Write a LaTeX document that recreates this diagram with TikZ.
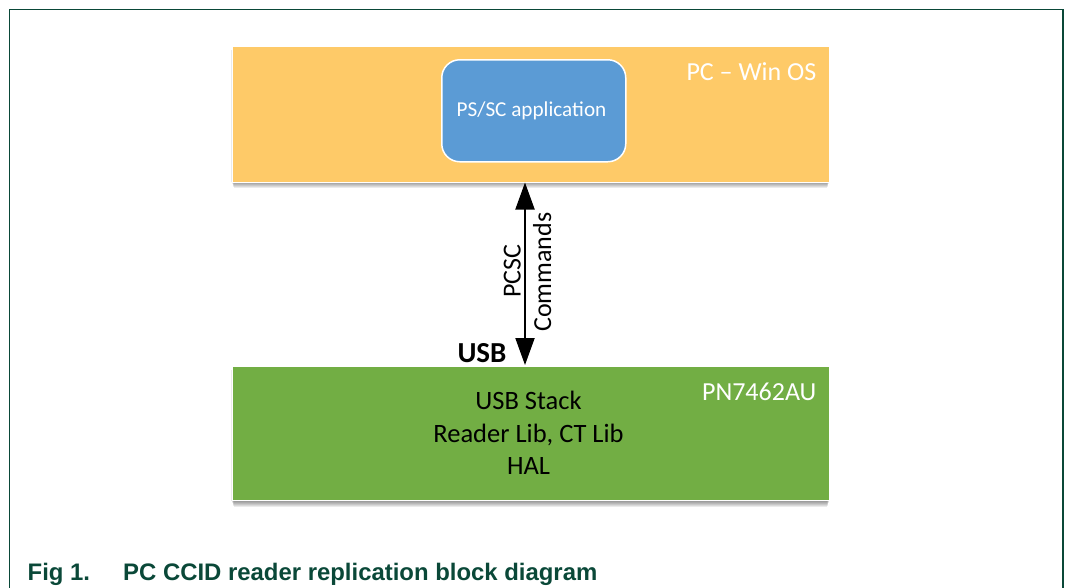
\documentclass[tikz,border=0pt]{standalone}
\usepackage{fontspec}
\setmainfont{Carlito}
\newfontfamily\capfont{Liberation Sans}
\usetikzlibrary{arrows.meta}
\definecolor{frame}{RGB}{10,72,56}
\definecolor{pcorange}{RGB}{254,202,104}
\definecolor{appblue}{RGB}{91,155,213}
\definecolor{pngreen}{RGB}{114,174,68}
\tikzset{
  layer/.style={draw=white, line width=0.6pt, inner sep=0pt, anchor=north west},
  appbox/.style={draw=white, line width=1.5pt, fill=appblue, rounded corners=18pt, inner sep=0pt, anchor=north west},
  txt/.style={inner sep=0pt, anchor=base, font=\fontsize{26.5}{32}\selectfont},
  captxt/.style={inner sep=0pt, anchor=base west, text=frame, font=\capfont\fontsize{23.9}{26}\selectfont\bfseries},
  shadowpiece/.style={fill=black, opacity=0.08, draw=none},
}
\begin{document}
\begin{tikzpicture}[x=1pt,y=-1pt]
\useasboundingbox (0,0) rectangle (1067,587);
\draw[frame, line width=1.5pt] (9.5,600) -- (9.5,9.5) -- (1063,9.5) -- (1063,600);
% soft shadows
\foreach \i in {1,...,7} {
  \fill[shadowpiece] (231+\i*0.4,50) rectangle (830-\i*0.4,181+\i);
  \fill[shadowpiece] (231+\i*0.4,370) rectangle (830-\i*0.4,500+\i);
}
% PC box
\node[layer, fill=pcorange, minimum width=597pt, minimum height=136pt] (pc) at (232,46) {};
\node[appbox, minimum width=184pt, minimum height=102pt] (app) at (441,59) {};
\node[txt, text=white, font=\fontsize{21.2}{26}\selectfont] (apptxt) at (531.5,116.6) {PS/SC application};
\node[inner sep=0pt, anchor=base east, text=white, font=\fontsize{26}{30}\selectfont] (pclbl) at (816.5,80) {PC -- Win OS};
% PN box
\node[layer, fill=pngreen, minimum width=597pt, minimum height=134pt] (pn) at (232,366) {};
\node[inner sep=0pt, anchor=base east, text=white, font=\fontsize{26}{30}\selectfont] (pnlbl) at (816.5,400) {PN7462AU};
\node[txt] (l1) at (528.5,409.5) {USB Stack};
\node[txt] (l2) at (528.5,442.5) {Reader Lib, CT Lib};
\node[txt] (l3) at (528.5,474) {HAL};
% arrow
\coordinate (atop) at (525,182.5);
\coordinate (abot) at (525,365);
\draw[line width=2pt, {Triangle[length=27pt,width=19pt]}-{Triangle[length=27pt,width=19pt]}] (atop) -- (abot);
\node[inner sep=0pt, rotate=90, anchor=base west, font=\fontsize{26}{30}\selectfont] (pcsc) at (520.5,298) {PCSC};
\node[inner sep=0pt, rotate=90, anchor=base west, font=\fontsize{26}{30}\selectfont] (cmds) at (551,332) {Commands};
\node[inner sep=0pt, anchor=base, font=\fontsize{29}{34}\selectfont\bfseries] (usb) at (482,362.5) {USB};
% caption
\node[captxt] (fig) at (27.5,580) {Fig 1.};
\node[captxt] (cap) at (123,580) {PC CCID reader replication block diagram};
\end{tikzpicture}
\end{document}
